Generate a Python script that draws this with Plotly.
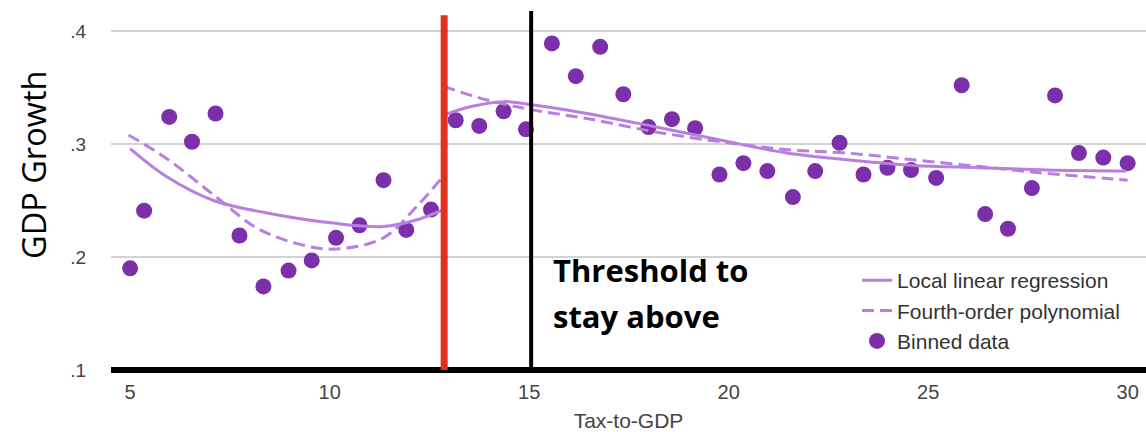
import plotly.graph_objects as go

# Binned data
bin_x = [5.0, 5.35, 5.98, 6.55, 7.14, 7.74, 8.34, 8.97, 9.55, 10.16, 10.75, 11.35, 11.92, 12.54,
         13.16, 13.75, 14.36, 14.92, 15.57, 16.17, 16.78, 17.36, 17.99, 18.58, 19.16, 19.77,
         20.37, 20.97, 21.61, 22.17, 22.78, 23.38, 23.98, 24.57, 25.2, 25.84, 26.43, 27.0,
         27.6, 28.18, 28.78, 29.39, 30.0]
bin_y = [0.190, 0.241, 0.324, 0.302, 0.327, 0.219, 0.174, 0.188, 0.197, 0.217, 0.228, 0.268,
         0.224, 0.242, 0.321, 0.316, 0.329, 0.313, 0.389, 0.360, 0.386, 0.344, 0.315, 0.322,
         0.314, 0.273, 0.283, 0.276, 0.253, 0.276, 0.301, 0.273, 0.279, 0.277, 0.270, 0.352,
         0.238, 0.225, 0.261, 0.343, 0.292, 0.288, 0.283]

# Local linear regression (left and right of cutoff)
llr_left_x = [5.0, 5.92, 7.09, 8.43, 10.09, 11.35, 12.19, 12.85]
llr_left_y = [0.296, 0.271, 0.250, 0.239, 0.230, 0.227, 0.233, 0.242]
llr_right_x = [12.89, 13.52, 14.36, 15.11, 16.45, 18.12, 19.79, 21.46, 22.96, 24.63, 26.3, 27.97, 29.97]
llr_right_y = [0.326, 0.333, 0.3375, 0.3345, 0.327, 0.3155, 0.3035, 0.292, 0.286, 0.281, 0.279, 0.277, 0.276]

# Fourth-order polynomial (left and right of cutoff)
poly_left_x = [4.96, 5.92, 7.09, 8.26, 9.68, 10.43, 11.35, 12.19, 12.81]
poly_left_y = [0.308, 0.287, 0.255, 0.224, 0.208, 0.208, 0.217, 0.245, 0.270]
poly_right_x = [12.85, 13.94, 15.11, 16.45, 18.12, 19.79, 21.46, 22.96, 24.63, 26.3, 27.97, 30.0]
poly_right_y = [0.351, 0.339, 0.330, 0.3225, 0.311, 0.302, 0.295, 0.292, 0.286, 0.280, 0.274, 0.268]

cutoff_x = 12.87
threshold_x = 15.05

y_ticks = [0.1, 0.2, 0.3, 0.4]
y_tick_text = [".1", ".2", ".3", ".4"]
x_ticks = [5, 10, 15, 20, 25, 30]

POINT = "#7B2FA8"
LINE = "#B87FE0"

fig = go.Figure()
fig.add_trace(go.Scatter(x=bin_x, y=bin_y, mode="markers", name="Binned data",
                         marker=dict(color=POINT, size=16), legendrank=3))
fig.add_trace(go.Scatter(x=llr_left_x + [None] + llr_right_x, y=llr_left_y + [None] + llr_right_y,
                         mode="lines", name="Local linear regression", connectgaps=False,
                         line=dict(color=LINE, width=3, shape="spline"), legendrank=1))
fig.add_trace(go.Scatter(x=poly_left_x + [None] + poly_right_x, y=poly_left_y + [None] + poly_right_y,
                         mode="lines", name="Fourth-order polynomial", connectgaps=False,
                         line=dict(color=LINE, width=3, dash="12px,6px", shape="spline"), legendrank=2))

shapes = [
    dict(type="line", xref="paper", yref="paper", x0=0, x1=1, y0=0, y1=0,
         line=dict(color="black", width=6), layer="above"),
    dict(type="line", xref="x", yref="y", x0=cutoff_x, x1=cutoff_x, y0=0.1, y1=0.414,
         line=dict(color="#E0301E", width=7), layer="above"),
    dict(type="line", xref="x", yref="paper", x0=threshold_x, x1=threshold_x, y0=0, y1=1,
         line=dict(color="black", width=4), layer="above"),
]

annotations = [
    dict(text="GDP Growth", xref="paper", yref="paper", x=-0.0754, y=0.571, textangle=-90,
         showarrow=False, xanchor="center", yanchor="middle",
         font=dict(family="Open Sans", size=32.5, color="black")),
    dict(text="<b>Threshold to</b>", xref="paper", yref="paper", x=0.425, y=0.2786,
         showarrow=False, xanchor="left", yanchor="middle", align="left",
         font=dict(family="Open Sans", size=31, color="black")),
    dict(text="<b>stay above</b>", xref="paper", yref="paper", x=0.425, y=0.1504,
         showarrow=False, xanchor="left", yanchor="middle", align="left",
         font=dict(family="Open Sans", size=31, color="black")),
]

fig.update_layout(
    width=1146, height=432,
    margin=dict(l=111, r=0, t=11, b=62),
    paper_bgcolor="white", plot_bgcolor="white",
    showlegend=True,
    legend=dict(x=0.7208, y=0.306, xanchor="left", yanchor="top", bgcolor="rgba(0,0,0,0)",
                font=dict(family="Liberation Sans", size=21, color="#333"), tracegroupgap=0),
    shapes=shapes, annotations=annotations,
    font=dict(family="Liberation Sans"),
)
fig.update_xaxes(range=[4.52, 30.46], tickvals=x_ticks, showgrid=False, zeroline=False,
                 showline=False, ticks="", ticklabelstandoff=8,
                 tickfont=dict(family="Liberation Sans", size=20, color="#444"),
                 title=dict(text="Tax-to-GDP", standoff=12,
                            font=dict(family="Liberation Sans", size=21, color="#444")))
fig.update_yaxes(range=[0.1, 0.4177], tickvals=y_ticks, ticktext=y_tick_text, showgrid=True,
                 gridcolor="#D3D3D3", gridwidth=2, zeroline=False, showline=False, ticks="",
                 ticklabelstandoff=24,
                 tickfont=dict(family="Liberation Sans", size=19, color="#444"))

fig.write_html("out.html")
